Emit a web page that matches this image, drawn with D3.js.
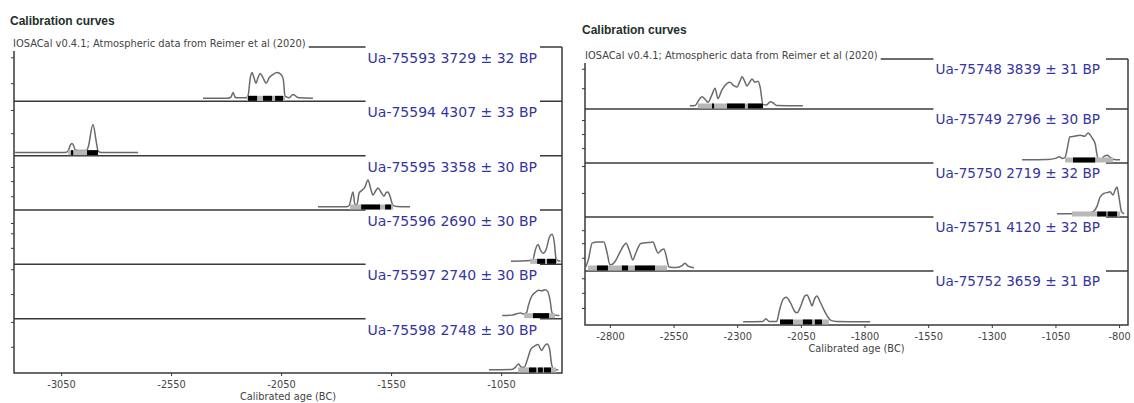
<!DOCTYPE html>
<html>
<head>
<meta charset="utf-8">
<script src="https://cdn.jsdelivr.net/npm/d3@7"></script>
<style>
  body { margin: 0; background: #fff; }
  svg { display: block; font-family: "DejaVu Sans", sans-serif; }
</style>
</head>
<body>
<svg id="chart" width="1134" height="403"></svg>
<script>
/* ---------- data ---------- */
const titleText = 'Calibration curves';
const subtitleText = 'IOSACal v0.4.1; Atmospheric data from Reimer et al (2020)';
const axisLabel = 'Calibrated age (BC)';

const leftLabels = [
  'Ua-75593 3729 ± 32 BP', 'Ua-75594 4307 ± 33 BP', 'Ua-75595 3358 ± 30 BP',
  'Ua-75596 2690 ± 30 BP', 'Ua-75597 2740 ± 30 BP', 'Ua-75598 2748 ± 30 BP'
];
const rightLabels = [
  'Ua-75748 3839 ± 31 BP', 'Ua-75749 2796 ± 30 BP', 'Ua-75750 2719 ± 32 BP',
  'Ua-75751 4120 ± 32 BP', 'Ua-75752 3659 ± 31 BP'
];

const leftTicks = [-3050, -2550, -2050, -1550, -1050];
const rightTicks = [-2800, -2550, -2300, -2050, -1800, -1550, -1300, -1050, -800];
const leftExtent = [-3264, -773];
const rightExtent = [-2898, -765];

// y ticks per strip (relative density)
const leftYTicks = [[0.28, 0.76], [0.36, 0.79], [0.2, 0.48, 0.74], [0.25, 0.52, 0.71], [0.4, 0.86], [0.43, 0.89]];
const rightYTicks = [[0.33, 0.69], [0.22, 0.48, 0.74], [0.39, 0.89], [0.19, 0.46, 0.7], [0.26, 0.54, 0.81]];

// calibrated distributions [year, relative density]
const curve75593 = [[-2405,0.003],[-2291,0.003],[-2278,0.02],[-2268,0.11],[-2259,0.02],[-2250,0.01],[-2209,0.01],[-2200,0.05],[-2190,0.38],[-2182,0.48],[-2173,0.38],[-2164,0.28],[-2155,0.38],[-2145,0.46],[-2132,0.38],[-2118,0.28],[-2104,0.38],[-2091,0.43],[-2068,0.48],[-2050,0.44],[-2040,0.35],[-2032,0.04],[-2015,0.01],[-1995,0.07],[-1986,0.05],[-1970,0.01],[-1905,0.003]];
const curve75594 = [[-3259,0.003],[-3030,0.003],[-3018,0.03],[-3008,0.14],[-3000,0.17],[-2992,0.12],[-2986,0.05],[-2960,0.04],[-2935,0.04],[-2927,0.1],[-2905,0.52],[-2890,0.2],[-2882,0.03],[-2870,0.005],[-2700,0.003]];
const curve75595 = [[-1882,0.003],[-1750,0.005],[-1740,0.03],[-1723,0.28],[-1714,0.04],[-1705,0.05],[-1695,0.26],[-1682,0.31],[-1670,0.36],[-1655,0.5],[-1642,0.33],[-1632,0.22],[-1620,0.3],[-1609,0.35],[-1595,0.27],[-1582,0.2],[-1572,0.27],[-1564,0.28],[-1555,0.2],[-1541,0.03],[-1525,0.01],[-1464,0.003]];
const curve75596 = [[-1005,0.003],[-930,0.01],[-905,0.03],[-895,0.2],[-882,0.31],[-870,0.2],[-859,0.15],[-845,0.22],[-830,0.45],[-818,0.5],[-808,0.35],[-800,0.05],[-790,0.01],[-780,0.003]];
const curve75597 = [[-1045,0.003],[-1000,0.01],[-975,0.04],[-960,0.05],[-950,0.03],[-935,0.05],[-925,0.2],[-912,0.35],[-895,0.43],[-880,0.47],[-865,0.46],[-850,0.48],[-838,0.45],[-828,0.3],[-818,0.05],[-805,0.01],[-785,0.003]];
const curve75598 = [[-1105,0.003],[-1000,0.01],[-985,0.05],[-970,0.11],[-958,0.05],[-945,0.05],[-930,0.2],[-915,0.38],[-895,0.45],[-882,0.47],[-866,0.36],[-852,0.45],[-841,0.48],[-830,0.4],[-820,0.1],[-810,0.01],[-790,0.003]];

const curve75748 = [[-2486,0.003],[-2465,0.01],[-2452,0.1],[-2439,0.17],[-2425,0.12],[-2415,0.07],[-2400,0.2],[-2387,0.33],[-2376,0.14],[-2360,0.3],[-2340,0.42],[-2328,0.44],[-2315,0.38],[-2301,0.35],[-2290,0.45],[-2281,0.54],[-2270,0.45],[-2262,0.37],[-2250,0.45],[-2242,0.5],[-2230,0.44],[-2218,0.46],[-2210,0.35],[-2199,0.03],[-2185,0.02],[-2170,0.08],[-2160,0.06],[-2145,0.01],[-2042,0.003]];
const curve75749 = [[-1181,0.003],[-1080,0.01],[-1050,0.03],[-1035,0.06],[-1022,0.03],[-1012,0.05],[-1004,0.2],[-993,0.43],[-975,0.44],[-953,0.46],[-935,0.44],[-922,0.5],[-906,0.41],[-894,0.3],[-883,0.03],[-870,0.02],[-858,0.07],[-847,0.09],[-836,0.05],[-820,0.01],[-796,0.003]];
const curve75750 = [[-1044,0.003],[-960,0.01],[-920,0.02],[-900,0.05],[-886,0.15],[-875,0.31],[-860,0.38],[-845,0.4],[-835,0.41],[-824,0.35],[-815,0.45],[-808,0.5],[-800,0.3],[-790,0.04],[-780,0.005]];
const curve75751 = [[-2895,0.02],[-2885,0.15],[-2870,0.46],[-2850,0.48],[-2824,0.48],[-2812,0.3],[-2800,0.06],[-2790,0.07],[-2780,0.12],[-2760,0.3],[-2745,0.42],[-2737,0.46],[-2722,0.3],[-2710,0.15],[-2700,0.26],[-2694,0.33],[-2680,0.45],[-2674,0.46],[-2650,0.47],[-2631,0.48],[-2620,0.36],[-2611,0.28],[-2598,0.33],[-2588,0.35],[-2578,0.2],[-2568,0.02],[-2540,0.01],[-2515,0.05],[-2505,0.09],[-2495,0.04],[-2470,0.003]];
const curve75752 = [[-2277,0.003],[-2200,0.01],[-2187,0.06],[-2175,0.01],[-2145,0.01],[-2135,0.2],[-2120,0.42],[-2108,0.46],[-2090,0.35],[-2075,0.2],[-2065,0.17],[-2050,0.3],[-2035,0.48],[-2026,0.5],[-2015,0.4],[-2006,0.3],[-1997,0.42],[-1987,0.48],[-1975,0.38],[-1959,0.22],[-1945,0.1],[-1932,0.03],[-1910,0.01],[-1778,0.003]];

// HPD ranges: grey = 95.4%, black = 68.2%
const leftGrey = [[[-2205,-2032]], [[-3018,-2882]], [[-1736,-1541]], [[-918,-795]], [[-945,-805]], [[-973,-800]]];
const leftBlack = [
  [[-2200,-2159],[-2132,-2091],[-2077,-2041]],
  [[-3005,-2995],[-2932,-2882]],
  [[-1686,-1600],[-1577,-1550]],
  [[-886,-850],[-841,-800]],
  [[-905,-832]],
  [[-923,-890],[-882,-860],[-855,-823]]
];
const rightGrey = [[[-2455,-2199]], [[-1012,-824]], [[-985,-796]], [[-2886,-2576]], [[-2132,-1940]]];
const rightBlack = [
  [[-2399,-2391],[-2340,-2270],[-2258,-2199]],
  [[-981,-894]],
  [[-886,-850],[-845,-808]],
  [[-2851,-2808],[-2753,-2729],[-2702,-2623]],
  [[-2132,-2081],[-2042,-2006],[-1995,-1967]]
];

const leftCurves = [curve75593, curve75594, curve75595, curve75596, curve75597, curve75598];
const rightCurves = [curve75748, curve75749, curve75750, curve75751, curve75752];

/* ---------- drawing ---------- */
const svg = d3.select('#chart');
svg.append('rect').attr('width', 1134).attr('height', 403).attr('fill', '#fff');

function drawPanel(cfg) {
  const g = svg.append('g');
  const x = d3.scaleLinear().domain(cfg.extent).range([cfg.x0, cfg.x1]);
  const n = cfg.labels.length;

  const strips = d3.range(n).map(i => {
    const bot = cfg.bottom - (n - 1 - i) * cfg.stripH;
    const top = i === 0 ? cfg.top : bot - cfg.stripH;
    const y = d3.scaleLinear().domain([0, 1]).range([bot - 3, bot - 3 - 54]);
    return { i, top, bot, y };
  });

  const clipId = 'clip' + cfg.x0;
  svg.append('clipPath').attr('id', clipId)
    .append('rect')
    .attr('x', cfg.x0).attr('y', cfg.top)
    .attr('width', cfg.x1 - cfg.x0).attr('height', cfg.bottom - cfg.top);

  // strip separators (incl. top border)
  g.selectAll('line.sep')
    .data(strips)
    .enter()
    .append('line')
    .attr('x1', cfg.x0).attr('x2', cfg.x1)
    .attr('y1', d => d.top).attr('y2', d => d.top)
    .attr('stroke', '#3a3a3a').attr('stroke-width', 1.5);

  // frame: left, right, bottom
  g.append('path')
    .attr('d', `M${cfg.x0},${cfg.top}V${cfg.bottom}H${cfg.x1}V${cfg.top}`)
    .attr('fill', 'none').attr('stroke', '#3a3a3a').attr('stroke-width', 1.5);

  // labels with white boxes
  strips.forEach(s => {
    const t = g.append('text')
      .attr('x', cfg.labelRight)
      .attr('y', s.top + cfg.labelOff)
      .attr('dy', '0.36em')
      .attr('text-anchor', 'end')
      .attr('font-size', cfg.labelSize + 'px')
      .attr('fill', '#3535a0')
      .text(cfg.labels[s.i]);
    const b = t.node().getBBox();
    g.insert('rect', () => t.node())
      .attr('x', b.x - 2).attr('y', s.top - 1.5)
      .attr('width', b.width + 2 + cfg.boxPadR)
      .attr('height', b.y + b.height - s.top + 3)
      .attr('fill', '#fff');
  });

  const line = d3.line()
    .x(d => x(d[0]))
    .curve(d3.curveMonotoneX);

  const cg = g.append('g').attr('clip-path', `url(#${clipId})`);

  strips.forEach(s => {
    cg.append('path')
      .datum(cfg.curves[s.i])
      .attr('d', line.y(d => s.y(d[1])))
      .attr('fill', 'none')
      .attr('stroke', '#6a6a6a')
      .attr('stroke-width', 1.5)
      .attr('stroke-linejoin', 'round');

    const y0 = s.y(0);
    cg.selectAll(null)
      .data(cfg.grey[s.i])
      .enter()
      .append('rect')
      .attr('x', d => x(d[0])).attr('width', d => x(d[1]) - x(d[0]))
      .attr('y', y0 - 2.5).attr('height', 5)
      .attr('fill', '#b8b8b8');
    cg.selectAll(null)
      .data(cfg.black[s.i])
      .enter()
      .append('rect')
      .attr('x', d => x(d[0])).attr('width', d => x(d[1]) - x(d[0]))
      .attr('y', y0 - 2.5).attr('height', 5)
      .attr('fill', '#000');

    // y ticks (no labels)
    const ya = g.append('g')
      .attr('transform', `translate(${cfg.x0},0)`)
      .call(d3.axisLeft(s.y).tickValues(cfg.yTicks[s.i]).tickSize(3).tickFormat(''));
    ya.select('.domain').remove();
    ya.selectAll('line').attr('stroke', '#3a3a3a');
  });

  // x axis
  const xa = g.append('g')
    .attr('transform', `translate(0,${cfg.bottom})`)
    .call(d3.axisBottom(x).tickValues(cfg.ticks).tickSize(3).tickPadding(5).tickFormat(d => String(d)));
  xa.select('.domain').remove();
  xa.selectAll('line').attr('stroke', '#3a3a3a');
  xa.selectAll('text')
    .attr('fill', '#444')
    .style('font-family', '"DejaVu Sans", sans-serif')
    .style('font-size', '9.8px');

  g.append('text')
    .attr('x', (cfg.x0 + cfg.x1) / 2)
    .attr('y', cfg.bottom + 27)
    .attr('text-anchor', 'middle')
    .attr('font-size', '9.8px')
    .attr('fill', '#444')
    .text(axisLabel);

  // subtitle with white box covering the top border
  const st = g.append('text')
    .attr('x', cfg.subX).attr('y', cfg.subY)
    .attr('font-size', '9.9px')
    .attr('fill', '#444')
    .text(subtitleText);
  const sb = st.node().getBBox();
  g.insert('rect', () => st.node())
    .attr('x', sb.x - 3).attr('y', sb.y - 1)
    .attr('width', sb.width + 6).attr('height', sb.height + 3)
    .attr('fill', '#fff');

  // title
  g.append('text')
    .attr('x', cfg.titleX).attr('y', cfg.titleY)
    .attr('font-family', '"Liberation Sans", Arial, sans-serif')
    .attr('font-weight', 'bold')
    .attr('font-size', '12px')
    .attr('fill', '#22302a')
    .text(titleText);
}

drawPanel({
  x0: 14, x1: 562, top: 47, bottom: 373, stripH: (373 - 47) / 6,
  extent: leftExtent, ticks: leftTicks, labels: leftLabels,
  curves: leftCurves, grey: leftGrey, black: leftBlack, yTicks: leftYTicks,
  labelRight: 537, labelOff: 11, labelSize: 14, boxPadR: 3,
  subX: 13, subY: 47, titleX: 10, titleY: 25
});

drawPanel({
  x0: 585, x1: 1128, top: 59, bottom: 325, stripH: 54,
  extent: rightExtent, ticks: rightTicks, labels: rightLabels,
  curves: rightCurves, grey: rightGrey, black: rightBlack, yTicks: rightYTicks,
  labelRight: 1100, labelOff: 10, labelSize: 13.6, boxPadR: 6,
  subX: 585, subY: 59, titleX: 582, titleY: 34
});
</script>
</body>
</html>
